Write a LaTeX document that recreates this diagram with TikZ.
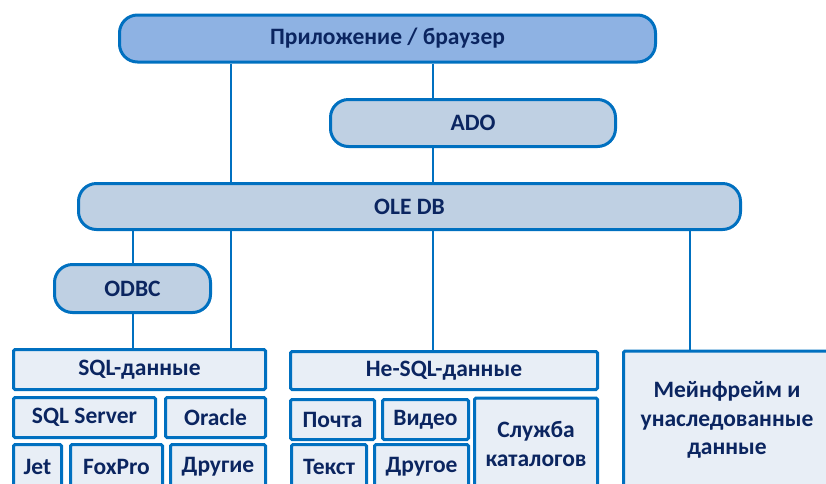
\documentclass[tikz,border=0pt]{standalone}
\usepackage{fontspec}
\setmainfont{Carlito}
\definecolor{bord}{HTML}{0070C0}
\definecolor{appfill}{HTML}{8EB2E3}
\definecolor{midfill}{HTML}{BFD0E3}
\definecolor{lowfill}{HTML}{E8EEF6}
\definecolor{txt}{HTML}{0B2560}
\begin{document}
\begin{tikzpicture}[x=1pt,y=-1pt,
  base/.style={draw=bord,line width=3pt,inner sep=0pt,text=txt,font=\bfseries\fontsize{23.5}{28.5}\selectfont,align=center},
  rbox/.style={base,rounded corners=18pt},
  sbox/.style={base,fill=lowfill,rounded corners=1.5pt},
  conn/.style={draw=bord,line width=2pt}]
\useasboundingbox (0,0) rectangle (826,483);
\clip (0,0) rectangle (826,483);
% connector x positions
\coordinate (xa) at (133,0);
\coordinate (xb) at (231,0);
\coordinate (xc) at (433,0);
\coordinate (xd) at (690,0);
% nodes
\node[rbox,fill=appfill,minimum width=536pt,minimum height=47pt] (app) at (387.5,38.5) {Приложение / браузер};
\node[rbox,fill=midfill,minimum width=285pt,minimum height=47pt] (ado) at (473,123) {ADO};
\node[rbox,fill=midfill,minimum width=662pt,minimum height=46pt] (ole) at (409.5,206.5) {OLE DB};
\node[rbox,fill=midfill,minimum width=156pt,minimum height=48pt] (odbc) at (132.5,288.5) {ODBC};
\node[sbox,minimum width=252pt,minimum height=40pt] (sql) at (139.5,369.5) {SQL-данные};
\node[sbox,minimum width=142pt,minimum height=40pt] (sqlsrv) at (84.5,417.5) {SQL Server};
\node[sbox,minimum width=100pt,minimum height=40pt] (oracle) at (215.5,417.5) {Oracle};
\node[sbox,minimum width=48pt,minimum height=45pt] (jet) at (37.5,467) {Jet};
\node[sbox,minimum width=92pt,minimum height=45pt] (fox) at (116.5,467) {FoxPro};
\node[sbox,minimum width=95pt,minimum height=45pt] (other) at (218,467) {Другие};
\node[sbox,minimum width=307pt,minimum height=38pt] (nosql) at (444,370.5) {Не-SQL-данные};
\node[sbox,minimum width=84pt,minimum height=40pt] (mail) at (332.5,419.5) {Почта};
\node[sbox,minimum width=86pt,minimum height=40pt] (video) at (425.5,419.5) {Видео};
\node[sbox,minimum width=75pt,minimum height=45pt] (text) at (329,467) {Текст};
\node[sbox,minimum width=94pt,minimum height=45pt] (other2) at (421.5,467) {Другое};
\node[sbox,minimum width=123pt,minimum height=92pt] (catalog) at (536,444) {Служба\\каталогов};
\node[sbox,minimum width=207pt,minimum height=138pt] (main) at (727,420) {Мейнфрейм и\\унаследованные\\данные};
% connectors
\draw[conn] (app.south -| xb) -- (ole.north -| xb);
\draw[conn] (app.south -| xc) -- (ado.north -| xc);
\draw[conn] (ado.south -| xc) -- (ole.north -| xc);
\draw[conn] (ole.south -| xa) -- (odbc.north -| xa);
\draw[conn] (odbc.south -| xa) -- (sql.north -| xa);
\draw[conn] (ole.south -| xb) -- (sql.north -| xb);
\draw[conn] (ole.south -| xc) -- (nosql.north -| xc);
\draw[conn] (ole.south -| xd) -- (main.north -| xd);
\end{tikzpicture}
\end{document}
